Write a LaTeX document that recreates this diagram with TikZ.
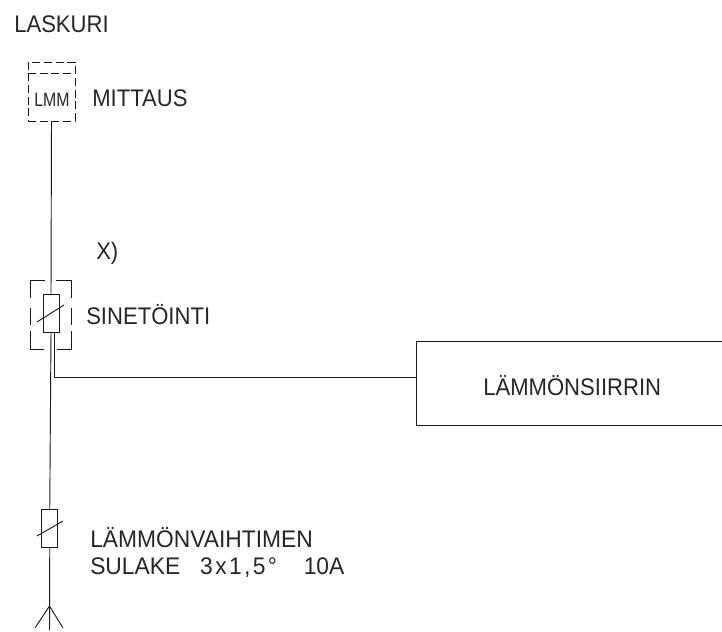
\documentclass[tikz,border=0pt]{standalone}
\usepackage{fontspec}
\setmainfont[FakeStretch=0.92]{Liberation Sans}
\newfontfamily\lmmfont[FakeStretch=0.82]{Liberation Sans}
\newfontfamily\fusefont[FakeStretch=0.95]{Liberation Sans}
\usetikzlibrary{positioning}
\tikzset{
    label/.style={anchor=base west,inner sep=0pt,font=\fontsize{18pt}{21pt}\selectfont,text=black!85},
    wire/.style={line width=0.7pt,black!90},
    fusebox/.style={draw,line width=0.7pt,black!90,minimum width=12pt,minimum height=28.5pt,inner sep=0pt,outer sep=0pt},
    dashbox/.style={line width=0.7pt,black!90,dash pattern=on 6pt off 2.8pt},
}
\begin{document}
\begin{tikzpicture}[x=0.75pt,y=-0.75pt]
    \useasboundingbox (0,0) rectangle (722,632);
    % metering
    \node[label] (laskuri) at (14,32) {LASKURI};
    \node[draw,dashbox,minimum width=35.25pt,minimum height=44.25pt,inner sep=0pt,outer sep=0pt] (lmm) at (51.5,91.5) {};
    \coordinate (lmmA) at (28,73);
    \coordinate (lmmB) at (75,73);
    \draw[dashbox] (lmmA) -- (lmmB);
    \node[anchor=base,inner sep=0pt,font=\lmmfont\fontsize{14.5pt}{15pt}\selectfont,text=black!85] (lmmtext) at (52,106) {LMM};
    \node[label] (mittaus) at (92,106) {MITTAUS};
    \node[label] (x) at (96,259) {X)};
    % sealed fuse
    \node[fusebox] (fuseA) at (51,313) {};
    \node[minimum width=30.75pt,minimum height=51.75pt,inner sep=0pt,outer sep=0pt] (seal) at (50.5,314.5) {};
    \foreach \c in {west,east} {
        \draw[wire,dash pattern=on 0pt off 4pt on 25pt off 7pt on 12.75pt off 5pt on 24pt off 9pt]
            (seal.north) -- (seal.north \c) -- (seal.south \c) -- (seal.south);
    }
    \coordinate (slashAa) at (37,322);
    \coordinate (slashAb) at (64,305);
    \draw[wire] (slashAa) -- (slashAb);
    \node[label] (sinet) at (86,324) {SINETÖINTI};
    % heat exchanger
    \node[minimum width=229.5pt,minimum height=63pt,inner sep=0pt,outer sep=0pt] (exch) at (569,383) {};
    \draw[wire] (exch.north east) -- (exch.north west) -- (exch.south west) -- (exch.south east);
    \node[label] (exchtext) at (483,395) {LÄMMÖNSIIRRIN};
    \coordinate (tapA) at (54.5,332);
    \coordinate (tapB) at (54.5,377);
    \coordinate (tapC) at (416,377);
    \draw[wire] (tapA) -- (tapB) -- (tapC);
    % lower fuse
    \node[fusebox] (fuseB) at (49.75,528) {};
    \coordinate (slashBa) at (37,536);
    \coordinate (slashBb) at (63,521);
    \draw[wire] (slashBa) -- (slashBb);
    \node[label,anchor=west,align=left,font=\fusefont\fontsize{18pt}{20.25pt}\selectfont] (sulake) at (90,552) {LÄMMÖNVAIHTIMEN\\SULAKE\hspace{15pt}{\addfontfeature{LetterSpace=10}3x1,5°}\hspace{20pt}10A};
    % feed
    \coordinate (forkA) at (49.5,606);
    \coordinate (forkB) at (49.5,630);
    \coordinate (forkC) at (35,628);
    \coordinate (forkD) at (63,628);
    \draw[wire] (lmm.south) -- (fuseA.north);
    \draw[wire] (fuseA.south) -- (fuseB.north);
    \draw[wire] (fuseB.south) -- (forkB);
    \draw[wire] (forkC) -- (forkA) -- (forkD);
\end{tikzpicture}
\end{document}
